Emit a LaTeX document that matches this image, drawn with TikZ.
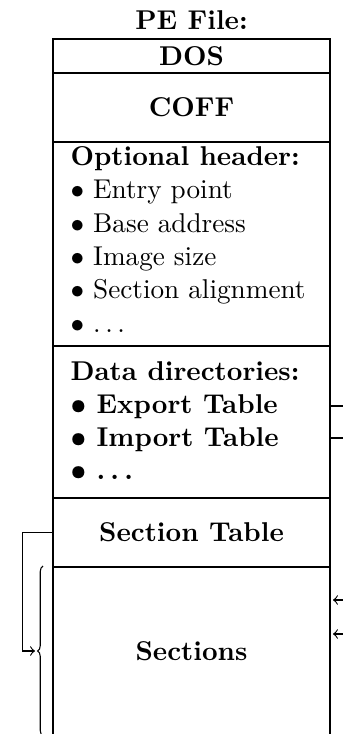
\documentclass[tikz,border=0pt]{standalone}
\usetikzlibrary{decorations.pathreplacing}
\begin{document}
\begin{tikzpicture}[x=0.3676pt,y=-0.3676pt,
  part/.style={draw, rectangle, inner sep=0pt, outer sep=0pt, anchor=north west,
    minimum width=101.83pt, font=\bfseries},
  item/.style={inner sep=0pt, anchor=base west},
  conn/.style={line width=0.4pt}]
\useasboundingbox (0,0) rectangle (342,734);
\node[font=\bfseries, inner sep=0pt] (title) at (191.5,20) {PE File:};
\node[part, minimum height=12.5pt]  (dos) at (53,39)  {DOS};
\node[part, minimum height=25.36pt] (coff) at (53,73) {COFF};
\node[part, minimum height=74.99pt] (opt) at (53,142) {};
\node[part, minimum height=55.88pt] (dd) at (53,346) {};
\node[part, minimum height=25.36pt] (st) at (53,498) {Section Table};
\node[part, minimum height=62.5pt] (secs) at (53,567) {};
\node[font=\bfseries, inner sep=0pt] (secslabel) at (191.5,651) {Sections};
% optional header
\node[item, font=\bfseries] (oh) at (70,165) {Optional header:};
\node[item] (ep) at (70,198.5) {$\bullet$ Entry point};
\node[item] (ba) at (70,232) {$\bullet$ Base address};
\node[item] (is) at (70,265) {$\bullet$ Image size};
\node[item] (sa) at (70,298.5) {$\bullet$ Section alignment};
\node[item] (od) at (70,332) {$\bullet$ $\ldots$};
% data directories
\node[item, font=\bfseries] (ddh) at (70,380) {Data directories:};
\node[item, font=\bfseries\boldmath] (exp) at (70,413) {$\bullet$ Export Table};
\node[item, font=\bfseries\boldmath] (imp) at (70,446) {$\bullet$ Import Table};
\node[item, font=\bfseries\boldmath] (ddd) at (70,479) {$\bullet$ $\ldots$};
% outgoing connectors on the right
\coordinate (expOut) at (348,406);
\coordinate (impOut) at (348,438);
\draw[conn] (dd.east |- expOut) -- (expOut);
\draw[conn] (dd.east |- impOut) -- (impOut);
% incoming arrows on the right
\coordinate (in1) at (348,600);
\coordinate (in2) at (348,634);
\draw[conn,->] (in1) -- ([xshift=1.1pt]secs.east |- in1);
\draw[conn,->] (in2) -- ([xshift=1.1pt]secs.east |- in2);
% brace and section table link
\draw[conn, decorate, decoration={brace, amplitude=2pt}] (43,736) -- (43,566);
\coordinate (brtip) at (35,651);
\draw[conn,->] (st.west) -- ++(-30.3,0) |- (brtip);
\end{tikzpicture}
\end{document}
